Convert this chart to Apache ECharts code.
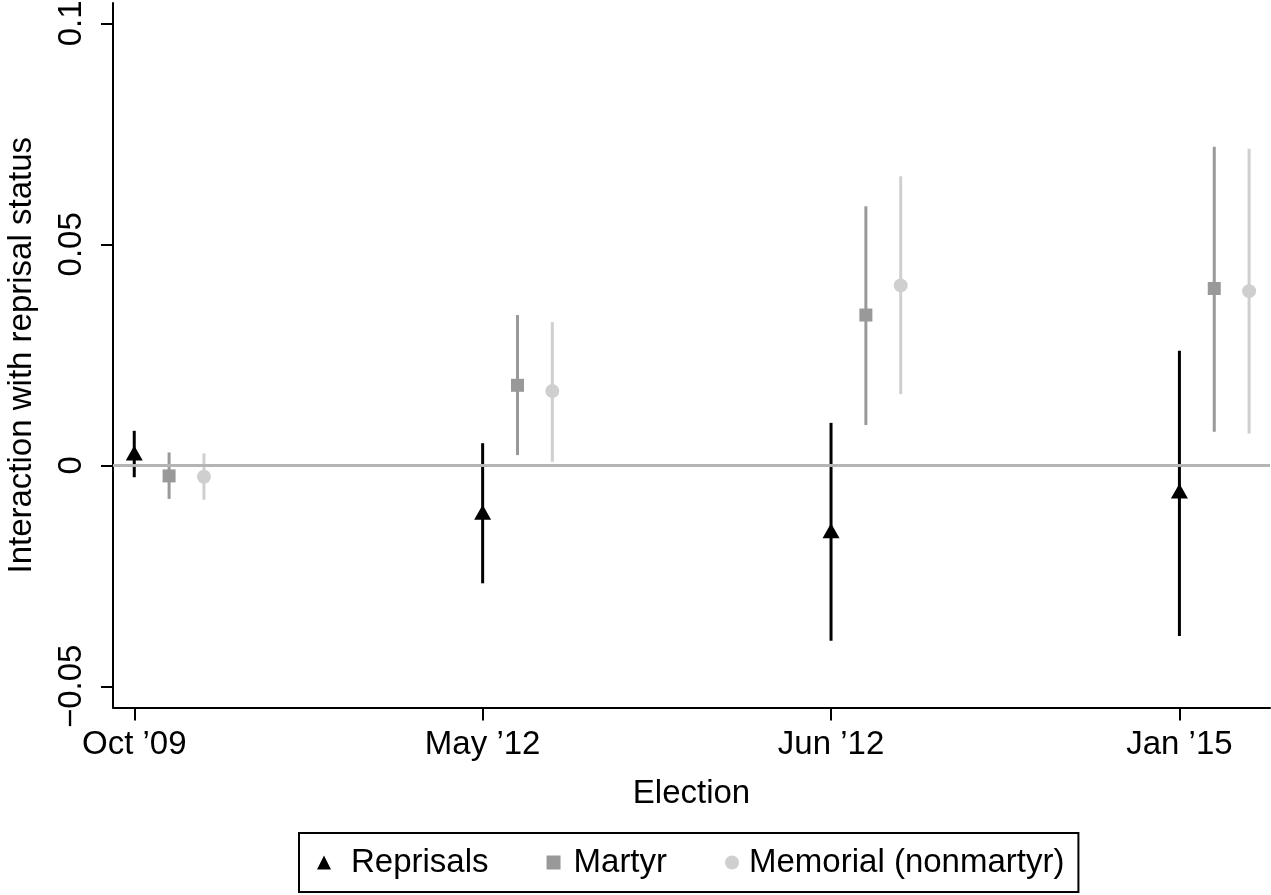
<!DOCTYPE html>
<html>
<head>
<meta charset="utf-8">
<script src="https://cdn.jsdelivr.net/npm/echarts@6/dist/echarts.min.js"></script>
<style>
html,body{margin:0;padding:0;background:#fff;}
#chart{width:1271px;height:895px;}
</style>
</head>
<body>
<div id="chart"></div>
<script>
// ---- data ----
const elections = ['Oct \u201909', 'May \u201912', 'Jun \u201912', 'Jan \u201915'];
const yTicks = [-0.05, 0, 0.05, 0.1];
const yTickLabels = ['\u22120.05', '0', '0.05', '0.1'];

const reprisalsEst = [0.0028, -0.0106, -0.0148, -0.0058];
const reprisalsLo  = [-0.0027, -0.0267, -0.0397, -0.0386];
const reprisalsHi  = [0.0078, 0.0050, 0.0096, 0.0259];

const martyrEst = [-0.0024, 0.0181, 0.0340, 0.0400];
const martyrLo  = [-0.0076, 0.0023, 0.0091, 0.0076];
const martyrHi  = [0.0029, 0.0340, 0.0586, 0.0721];

const memorialEst = [-0.0026, 0.0168, 0.0407, 0.0394];
const memorialLo  = [-0.0078, 0.0008, 0.0161, 0.0072];
const memorialHi  = [0.0027, 0.0324, 0.0654, 0.0716];

// ---- layout / style ----
const FONT = 'Liberation Sans, Arial, Helvetica, sans-serif';
const FS = 33;
const OFFSETS = [0, 0.1, 0.2];
const COLORS = ['#000000', '#999999', '#cfcfcf'];

function pts(est, off) { return est.map((v, i) => [i + off, v]); }
function bars(lo, hi, off) { return lo.map((v, i) => [i + off, v, hi[i]]); }

function errSeries(lo, hi, off, color) {
  return {
    type: 'custom',
    silent: true,
    z: 2,
    data: bars(lo, hi, off),
    encode: { x: 0, y: [1, 2] },
    renderItem: function (params, api) {
      const a = api.coord([api.value(0), api.value(1)]);
      const b = api.coord([api.value(0), api.value(2)]);
      return {
        type: 'line',
        shape: { x1: a[0], y1: a[1], x2: b[0], y2: b[1] },
        style: { stroke: color, lineWidth: 3 }
      };
    }
  };
}

const chart = echarts.init(document.getElementById('chart'), null, { renderer: 'canvas' });

const option = {
  animation: false,
  backgroundColor: '#ffffff',
  textStyle: { fontFamily: FONT },
  grid: { left: 113, right: 1, top: 3, bottom: 187.5, containLabel: false, outerBoundsMode: 'none' },
  xAxis: {
    type: 'value',
    min: -0.061,
    max: 3.26,
    name: 'Election',
    nameLocation: 'middle',
    nameGap: 70,
    nameTextStyle: { fontSize: FS, color: '#000', fontFamily: FONT },
    splitLine: { show: false },
    axisLine: { show: true, onZero: false, lineStyle: { color: '#000', width: 2 } },
    axisTick: { show: true, length: 13, lineStyle: { color: '#000', width: 2 }, customValues: [0, 1, 2, 3] },
    axisLabel: {
      show: true, fontSize: FS, color: '#000', fontFamily: FONT, margin: 21,
      customValues: [0, 1, 2, 3],
      formatter: function (v) { return elections[Math.round(v)]; }
    }
  },
  yAxis: {
    type: 'value',
    min: -0.0548,
    max: 0.1046,
    name: 'Interaction with reprisal status',
    nameLocation: 'middle',
    nameRotate: 90,
    nameGap: 75,
    nameTextStyle: { fontSize: FS, color: '#000', fontFamily: FONT },
    splitLine: { show: false },
    axisLine: { show: true, onZero: false, lineStyle: { color: '#000', width: 2 } },
    axisTick: { show: true, length: 12, lineStyle: { color: '#000', width: 2 }, customValues: yTicks },
    axisLabel: {
      show: true, fontSize: FS, color: '#000', fontFamily: FONT, rotate: 90, margin: 25,
      customValues: yTicks,
      formatter: function (v) {
        const i = yTicks.findIndex(t => Math.abs(t - v) < 1e-9);
        return i >= 0 ? yTickLabels[i] : '';
      }
    }
  },
  legend: {
    left: 299,
    top: 833,
    orient: 'horizontal',
    padding: [13, 14, 13, 18],
    borderColor: '#000',
    borderWidth: 2,
    itemGap: 58,
    itemWidth: 14,
    itemHeight: 14,
    textStyle: { fontSize: FS, color: '#000', fontFamily: FONT },
    data: [
      { name: 'Reprisals', icon: 'triangle', itemStyle: { color: COLORS[0] }, textStyle: { padding: [0, 0, 0, 15] } },
      { name: 'Martyr', icon: 'rect', itemStyle: { color: COLORS[1] }, textStyle: { padding: [0, 0, 0, 8] } },
      { name: 'Memorial (nonmartyr)', icon: 'circle', itemStyle: { color: COLORS[2] }, textStyle: { padding: [0, 0, 0, 5] } }
    ]
  },
  series: [
    {
      type: 'line', data: [], silent: true, z: 1,
      markLine: {
        silent: true, symbol: 'none', label: { show: false },
        lineStyle: { color: '#b4b4b4', width: 3, type: 'solid' },
        data: [{ yAxis: 0 }]
      }
    },
    errSeries(reprisalsLo, reprisalsHi, OFFSETS[0], COLORS[0]),
    errSeries(martyrLo, martyrHi, OFFSETS[1], COLORS[1]),
    errSeries(memorialLo, memorialHi, OFFSETS[2], COLORS[2]),
    {
      name: 'Reprisals', type: 'scatter', z: 5, symbol: 'triangle', symbolSize: [17, 15],
      itemStyle: { color: COLORS[0], opacity: 1 }, data: pts(reprisalsEst, OFFSETS[0])
    },
    {
      name: 'Martyr', type: 'scatter', z: 5, symbol: 'rect', symbolSize: 13,
      itemStyle: { color: COLORS[1], opacity: 1 }, data: pts(martyrEst, OFFSETS[1])
    },
    {
      name: 'Memorial (nonmartyr)', type: 'scatter', z: 5, symbol: 'circle', symbolSize: 14,
      itemStyle: { color: COLORS[2], opacity: 1 }, data: pts(memorialEst, OFFSETS[2])
    }
  ]
};
chart.setOption(option);
</script>
</body>
</html>
